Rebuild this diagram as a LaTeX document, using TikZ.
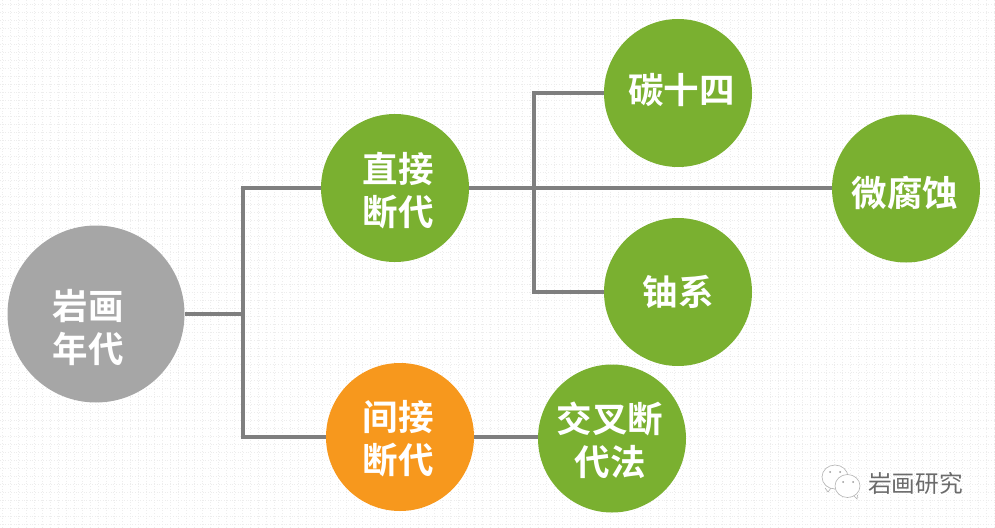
\documentclass[tikz,border=0pt]{standalone}
\usepackage{fontspec}
\newfontfamily\cjk{Noto Sans CJK SC Bold}
\newfontfamily\cjkl{Noto Sans CJK SC}
\definecolor{leaf}{HTML}{7AB030}
\definecolor{org}{HTML}{F7981D}
\definecolor{gry}{HTML}{A6A6A6}
\definecolor{lin}{HTML}{7F7F7F}
\tikzset{
 circ/.style={circle,inner sep=0pt,minimum size=#1},
 lab/.style={inner sep=0pt,text=white,align=center,font=\cjk\fontsize{35.5}{43}\selectfont},
 conn/.style={draw=lin,line width=4pt},
 gridl/.style={draw=black!7,line width=.6pt,dash pattern=on 1pt off 1.7pt},
 bub/.style={draw=black!30,fill=white,line width=.6pt}
}
\begin{document}
\begin{tikzpicture}[x=1pt,y=-1pt]
\useasboundingbox (0,0) rectangle (995,527);
\foreach \g in {0,...,124}{\draw[gridl] ({2+8*\g},0) -- ({2+8*\g},527);}
\foreach \g in {0,...,65}{\draw[gridl] (0,{4+8*\g}) -- (995,{4+8*\g});}
\coordinate (j1) at (243,314);
\coordinate (j1t) at (243,188);
\coordinate (j1b) at (243,437);
\coordinate (j2t) at (534,93);
\coordinate (j2b) at (534,292);
\draw[conn,line cap=rect] (j1t) -- (j1b);
\draw[conn,line cap=rect] (j2t) -- (j2b);
\node[circ=177pt,fill=gry,label={[lab,xshift=-8pt,yshift=-14pt]center:岩画\\年代}] (root) at (96,314) {};
\node[circ=148pt,fill=leaf,label={[lab,xshift=3pt,yshift=-3pt]center:直接\\断代}] (direct) at (395,188) {};
\node[circ=148pt,fill=org,label={[lab,xshift=-2pt,yshift=-2pt]center:间接\\断代}] (indirect) at (400,437) {};
\node[circ=148pt,fill=leaf,label={[lab,xshift=3.5pt,yshift=3pt]center:碳十四}] (c14) at (678,93) {};
\node[circ=148pt,fill=leaf,label={[lab,xshift=-1pt,yshift=-5pt]center:微腐蚀}] (micro) at (906,188.5) {};
\node[circ=148pt,fill=leaf,label={[lab]center:铀系}] (uran) at (678,292) {};
\node[circ=148pt,fill=leaf,label={[lab,xshift=-2pt,yshift=-2pt]center:交叉断\\代法}] (cross) at (612,438.5) {};
\draw[conn] (root.east) -- (j1);
\draw[conn] (j1t) -- (direct.west);
\draw[conn] (j1b) -- (indirect.west);
\draw[conn] (direct.east) -- (direct.east -| micro.west);
\draw[conn] (j2t) -- (c14.west);
\draw[conn] (j2b) -- (uran.west);
\draw[conn] (indirect.east) -- (indirect.east -| cross.west);
% watermark
\draw[bub] (825,488) -- (828,492) -- (831,488);
\draw[bub] (835,477) ellipse (13pt and 12pt);
\draw[bub] (854,496) -- (857,499) -- (857.5,495);
\draw[bub] (847.5,486) ellipse (12.5pt and 11.5pt);
\fill[black!40] (830,472) circle (1pt) (840,472) circle (1pt) (843,482) circle (1pt) (853,482) circle (1pt);
\node[inner sep=0pt,text=black!58,font=\cjkl\fontsize{23.7}{26}\selectfont] (wm) at (915.5,483.5) {岩画研究};
\end{tikzpicture}
\end{document}
